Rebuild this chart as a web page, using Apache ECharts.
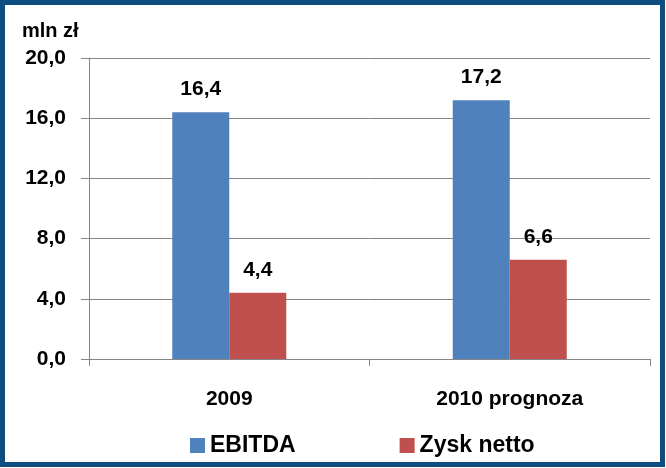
<!DOCTYPE html>
<html>
<head>
<meta charset="utf-8">
<script src="https://cdn.jsdelivr.net/npm/echarts@6/dist/echarts.min.js"></script>
<style>
  html, body { margin: 0; padding: 0; background: #fff; }
</style>
</head>
<body>
<div id="myEcharts" style="width: 666px; height: 468px;"></div>
<script>
const categories = ['2009', '2010 prognoza'];
const ebitda = [16.4, 17.2];
const zyskNetto = [4.4, 6.6];
const seriesNames = ['EBITDA', 'Zysk netto'];

const font = '"Liberation Sans", Arial, sans-serif';
const fmt = (v) => Number(v).toFixed(1).replace('.', ',');

const chart = echarts.init(document.getElementById('myEcharts'));

chart.setOption({
  animation: false,
  backgroundColor: '#fff',
  textStyle: { fontFamily: font },
  title: {
    text: 'mln zł',
    left: 17,
    top: 16,
    textStyle: { fontFamily: font, fontSize: 20, fontWeight: 'bold', color: '#000' }
  },
  graphic: [
    {
      type: 'rect',
      shape: { x: 2.5, y: 2.5, width: 660, height: 462 },
      style: { fill: 'none', stroke: '#0e4d7f', lineWidth: 5 },
      silent: true
    }
  ],
  legend: {
    left: 185,
    top: 429,
    itemWidth: 15,
    itemHeight: 15,
    itemGap: 104,
    icon: 'rect',
    textStyle: { fontFamily: font, fontSize: 23, fontWeight: 'bold', color: '#000' },
    data: seriesNames
  },
  grid: { left: 89, right: 16, top: 58, bottom: 109 },
  xAxis: {
    type: 'category',
    data: categories,
    axisLine: { lineStyle: { color: '#868686', width: 1 } },
    axisTick: { show: true, length: 7, alignWithLabel: false, lineStyle: { color: '#868686' } },
    axisLabel: { margin: 30, fontFamily: font, fontSize: 21, fontWeight: 'bold', color: '#000' }
  },
  yAxis: {
    type: 'value',
    min: 0,
    max: 20,
    interval: 4,
    axisLine: { show: true, lineStyle: { color: '#868686', width: 1 } },
    axisTick: { show: true, length: 8, lineStyle: { color: '#868686' } },
    splitLine: { show: true, lineStyle: { color: '#868686', width: 1 } },
    axisLabel: { margin: 23, formatter: fmt, fontFamily: font, fontSize: 21, fontWeight: 'bold', color: '#000' }
  },
  series: [
    {
      name: seriesNames[0],
      type: 'bar',
      data: ebitda,
      barWidth: 57,
      barGap: '0%',
      itemStyle: { color: '#4f81bd' },
      label: { show: true, position: 'top', distance: 12, formatter: (p) => fmt(p.value), fontFamily: font, fontSize: 21, fontWeight: 'bold', color: '#000' }
    },
    {
      name: seriesNames[1],
      type: 'bar',
      data: zyskNetto,
      barWidth: 57,
      barGap: '0%',
      itemStyle: { color: '#c0504d' },
      label: { show: true, position: 'top', distance: 12, formatter: (p) => fmt(p.value), fontFamily: font, fontSize: 21, fontWeight: 'bold', color: '#000' }
    }
  ]
});

window.onresize = function () {
  chart.resize();
};
</script>
</body>
</html>
